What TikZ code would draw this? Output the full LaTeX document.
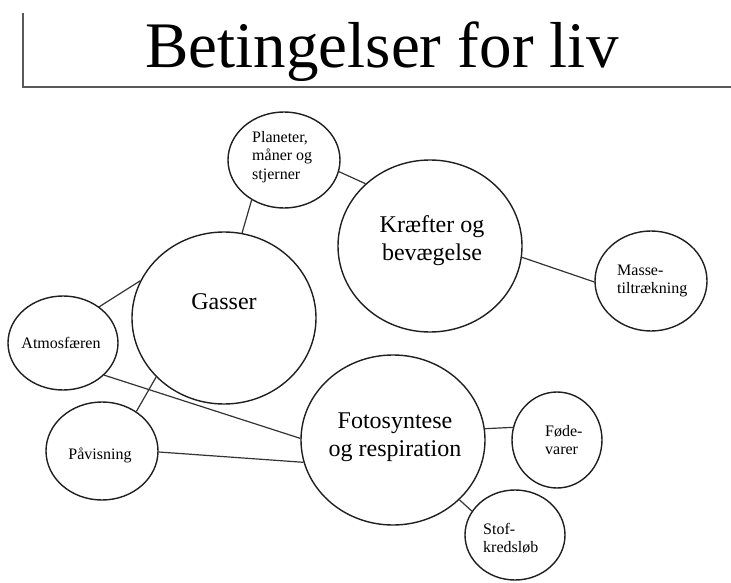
\documentclass[tikz,border=0pt]{standalone}
\usepackage{fontspec}
\setmainfont{Liberation Serif}
\usetikzlibrary{shapes.geometric}
\tikzset{
  bubble/.style={draw=black!88, line width=1.4pt, ellipse, inner sep=0pt, fill=none},
  conn/.style={draw=black!80, line width=1.2pt},
  bigtxt/.style={font=\fontsize{24}{28}\selectfont, align=center, inner sep=0pt},
  smalltxt/.style={font=\fontsize{16}{18.5}\selectfont, align=left, inner sep=0pt},
}
\begin{document}
\begin{tikzpicture}[x=1pt,y=-1pt]
\useasboundingbox (0,0) rectangle (731,583);
% title frame
\coordinate (ftop) at (22.5,13);
\coordinate (fcorner) at (22.5,87);
\coordinate (fright) at (731,87);
\draw[black!65, line width=2pt] (ftop) -- (fcorner) -- (fright);
\node[inner sep=0pt, anchor=base, font=\fontsize{65}{75}\selectfont] (title) at (382,68) {Betingelser for liv};
% circles
\node[bubble, minimum width=112pt, minimum height=96pt] (plan) at (284,160) {};
\node[bubble, minimum width=184pt, minimum height=172pt] (kraft) at (430,246) {};
\node[bubble, minimum width=112pt, minimum height=100pt] (masse) at (651,281) {};
\node[bubble, minimum width=184pt, minimum height=172pt] (gas) at (224,318) {};
\node[bubble, minimum width=110pt, minimum height=94pt] (atm) at (63,343) {};
\node[bubble, minimum width=112pt, minimum height=98pt] (pav) at (102,451) {};
\node[bubble, minimum width=184pt, minimum height=170pt] (foto) at (393,440) {};
\node[bubble, minimum width=90pt, minimum height=96pt] (fode) at (557,440) {};
\node[bubble, minimum width=100pt, minimum height=90pt] (stof) at (515,535) {};
% texts
\node[smalltxt, anchor=west] (plantxt) at (252,157) {Planeter,\\måner og\\stjerner};
\node[bigtxt] (krafttxt) at (432,241) {Kræfter og\\bevægelse};
\node[smalltxt, anchor=west] (massetxt) at (617,281) {Masse-\\tiltrækning};
\node[bigtxt] (gastxt) at (224,302) {Gasser};
\node[smalltxt] (atmtxt) at (61,343) {Atmosfæren};
\node[smalltxt] (pavtxt) at (100,455) {Påvisning};
\node[bigtxt] (fototxt) at (395,437) {Fotosyntese\\og respiration};
\node[smalltxt, anchor=west] (fodetxt) at (545,440) {Føde-\\varer};
\node[smalltxt, anchor=west] (stoftxt) at (483,538) {Stof-\\kredsløb};
% connectors
\draw[conn] (plan.231) -- (gas.78);
\draw[conn] (plan.348.5) -- (kraft.136.8);
\draw[conn] (kraft.-7.4) -- (masse.181);
\draw[conn] (atm.45.8) -- (gas.156.9);
\draw[conn] (atm.322) -- (foto.179.4);
\draw[conn] (gas.221.9) -- (pav.49.8);
\draw[conn] (pav.359) -- (foto.194.9);
\draw[conn] (foto.7.4) -- (fode.164.7);
\draw[conn] (foto.318.5) -- (stof.151.3);
\end{tikzpicture}
\end{document}
